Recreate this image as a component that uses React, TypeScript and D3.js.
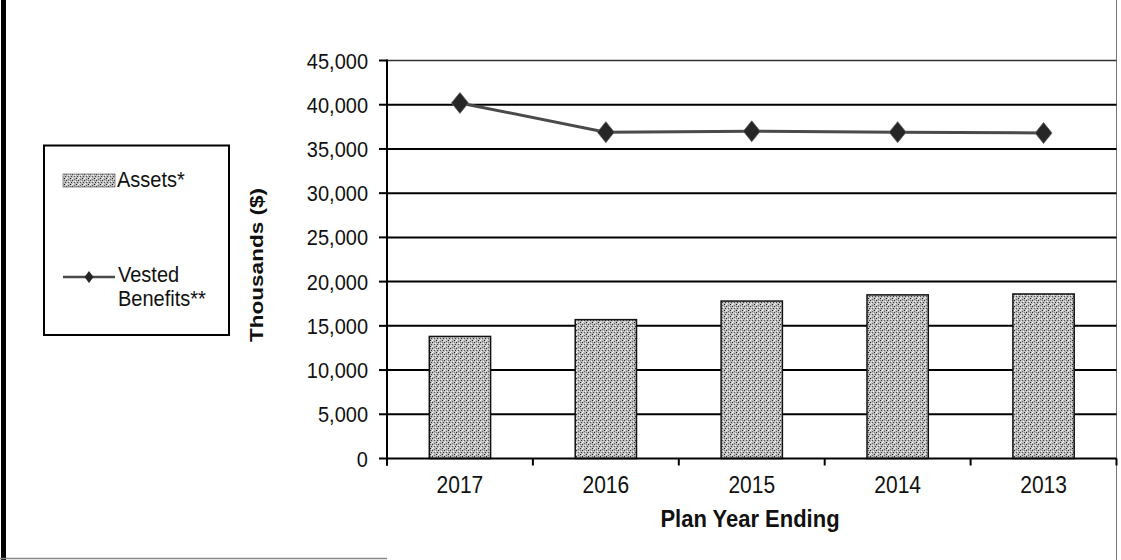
import React from 'react';
import * as d3 from 'd3';

const years = ['2017', '2016', '2015', '2014', '2013'];
const assets = [13800, 15700, 17800, 18500, 18600];
const vested = [40200, 36900, 37000, 36900, 36800];
const yTicks = [0, 5000, 10000, 15000, 20000, 25000, 30000, 35000, 40000, 45000];

const W = 1121;
const H = 560;
const FONT = 'Arial, "Liberation Sans", sans-serif';

function T(props: { x: number; y: number; anchor?: string; size: number; bold?: boolean; sy?: number; children: React.ReactNode }) {
  const { x, y, anchor = 'start', size, bold, sy = 1.13, children } = props;
  return (
    <text
      transform={`translate(${x},${y}) scale(1,${sy})`}
      textAnchor={anchor as any}
      fontSize={size}
      fontWeight={bold ? 'bold' : 'normal'}
      fill="#111"
    >
      {children}
    </text>
  );
}

export default function App() {
  const xL = 387;
  const xR = 1116.5;
  const yB = 458.5;
  const yT = 60.5;

  const x = d3.scaleBand<string>().domain(years).range([xL, xR]).paddingInner(0.58).paddingOuter(0.29);
  const step = x.step();
  const cat = d3.scaleBand<string>().domain(years).range([xL, xR]).padding(0);
  const y = d3.scaleLinear().domain([0, 45000]).range([yB, yT]);
  const fmt = d3.format(',');

  const line = d3
    .line<number>()
    .x((_, i) => (cat(years[i]) as number) + cat.bandwidth() / 2)
    .y((d) => y(d));

  const diamond = (cx: number, cy: number, w: number, h: number) =>
    `M${cx},${cy - h / 2}L${cx + w / 2},${cy}L${cx},${cy + h / 2}L${cx - w / 2},${cy}Z`;

  return (
    <svg
      width={W}
      height={H}
      style={{ position: 'absolute', left: 0, top: 0, background: '#fff' }}
      fontFamily={FONT}
    >
      <defs>
        <pattern id="stip" width="6" height="6" patternUnits="userSpaceOnUse">
          <rect width="6" height="6" fill="#bdbdbd" />
          <rect x="0" y="0" width="1" height="1" fill="#2a2a2a" />
          <rect x="3" y="1" width="1" height="1" fill="#ffffff" />
          <rect x="5" y="2" width="1" height="1" fill="#3a3a3a" />
          <rect x="1" y="3" width="1" height="1" fill="#eeeeee" />
          <rect x="4" y="4" width="1" height="1" fill="#1a1a1a" />
          <rect x="2" y="5" width="1" height="1" fill="#6a6a6a" />
          <rect x="0" y="4" width="1" height="1" fill="#ffffff" />
          <rect x="5" y="5" width="1" height="1" fill="#e0e0e0" />
          <rect x="2" y="2" width="1" height="1" fill="#555555" />
          <rect x="4" y="0" width="1" height="1" fill="#777777" />
          <rect x="1" y="1" width="1" height="1" fill="#dddddd" />
        </pattern>
      </defs>

      {/* frame */}
      <rect x={1} y={0} width={5} height={H} fill="#000" />
      <line x1={0} x2={387} y1={558.5} y2={558.5} stroke="#888" strokeWidth={1.5} />
      <line x1={1116.5} x2={1116.5} y1={0} y2={H} stroke="#777" strokeWidth={1} />

      {/* gridlines */}
      {yTicks.slice(1).map((t) => (
        <line
          key={t}
          x1={xL}
          x2={xR}
          y1={y(t)}
          y2={y(t)}
          stroke={t === 45000 ? '#333' : '#000'}
          strokeWidth={t === 45000 ? 1.5 : 2}
        />
      ))}

      {/* bars */}
      {years.map((yr, i) => (
        <rect
          key={yr}
          x={x(yr)}
          y={y(assets[i])}
          width={x.bandwidth()}
          height={yB - y(assets[i])}
          fill="url(#stip)"
          stroke="#111"
          strokeWidth={1.5}
        />
      ))}

      {/* axes */}
      <line x1={xL} x2={xL} y1={yT - 1} y2={yB + 7} stroke="#000" strokeWidth={2} />
      <line x1={xL} x2={xR} y1={yB} y2={yB} stroke="#000" strokeWidth={2} />
      {yTicks.map((t) => (
        <g key={t}>
          <line x1={xL - 8} x2={xL} y1={y(t)} y2={y(t)} stroke="#000" strokeWidth={2} />
          <T x={368} y={y(t) + 8} anchor="end" size={20}>
            {fmt(t)}
          </T>
        </g>
      ))}
      {d3.range(years.length + 1).map((i) => (
        <line key={i} x1={xL + i * step} x2={xL + i * step} y1={yB} y2={yB + 7} stroke="#000" strokeWidth={2} />
      ))}
      {years.map((yr) => (
        <T key={yr} x={(cat(yr) as number) + cat.bandwidth() / 2} y={493} anchor="middle" size={21}>
          {yr}
        </T>
      ))}

      {/* line series */}
      <path d={line(vested) || ''} fill="none" stroke="#4a4a4a" strokeWidth={3} />
      {vested.map((v, i) => {
        const cx = (cat(years[i]) as number) + cat.bandwidth() / 2;
        return <path key={i} d={diamond(cx, y(v), 17, 21)} fill="#262626" stroke="#666" strokeWidth={0.8} />;
      })}

      {/* axis titles */}
      <T x={750} y={527} anchor="middle" size={22} bold sy={1.08}>
        Plan Year Ending
      </T>
      <text
        transform="translate(263,265) rotate(-90)"
        textAnchor="middle"
        fontSize={19}
        fontWeight="bold"
        fill="#111"
        textLength={154}
        lengthAdjust="spacingAndGlyphs"
      >
        Thousands ($)
      </text>

      {/* legend */}
      <rect x={44} y={145.5} width={185} height={189.5} fill="#fff" stroke="#000" strokeWidth={2} />
      <rect x={63} y={174} width={52} height={13} fill="url(#stip)" stroke="#777" strokeWidth={0.8} />
      <T x={117} y={187} size={20}>
        Assets*
      </T>
      <line x1={63} x2={115} y1={277} y2={277} stroke="#4a4a4a" strokeWidth={2.5} />
      <path d={diamond(89, 277, 9, 12)} fill="#262626" />
      <T x={118} y={282} size={20}>
        Vested
      </T>
      <T x={118} y={306} size={20}>
        Benefits**
      </T>
    </svg>
  );
}
